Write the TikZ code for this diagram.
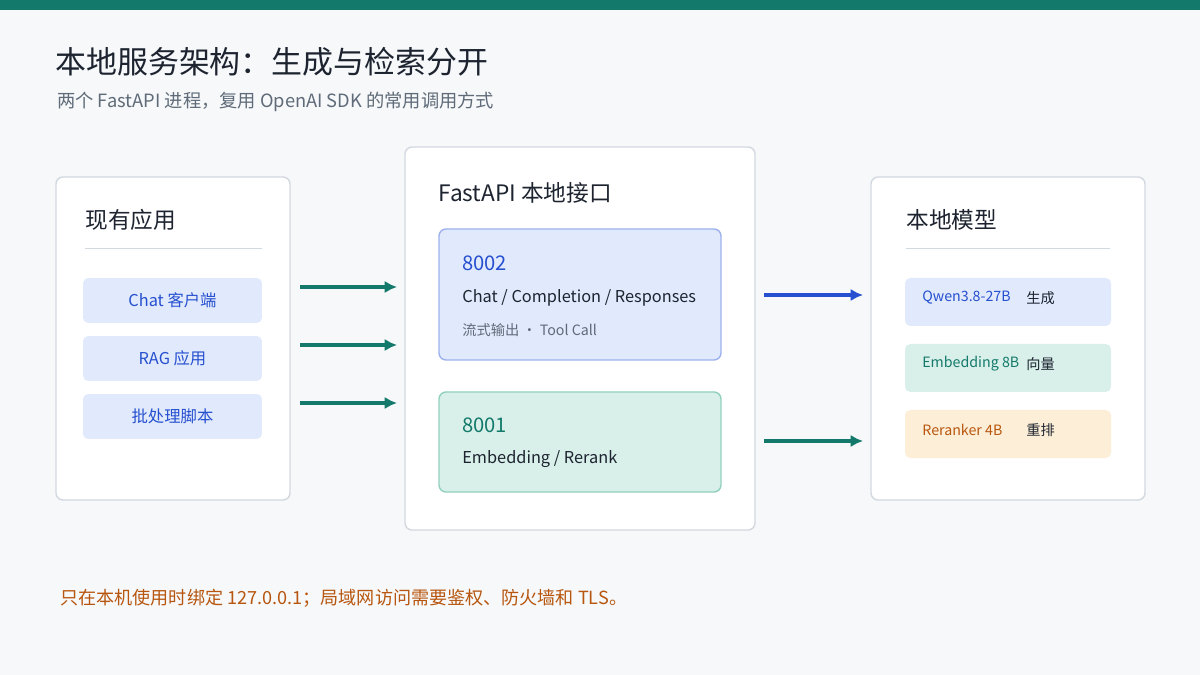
\documentclass[tikz,border=0pt]{standalone}
\usepackage{fontspec}
\setmainfont{Noto Sans CJK SC}
\usetikzlibrary{arrows.meta,positioning}
\definecolor{bg}{HTML}{F6F8FA}
\definecolor{teal}{HTML}{137A6B}
\definecolor{panelline}{HTML}{D3D9E0}
\definecolor{bluefill}{HTML}{E1E9FC}
\definecolor{blueline}{HTML}{9DB2EE}
\definecolor{bluetext}{HTML}{2650CF}
\definecolor{greenfill}{HTML}{D9F0EA}
\definecolor{greenline}{HTML}{92D0C0}
\definecolor{greentext}{HTML}{137A6B}
\definecolor{orangefill}{HTML}{FDEFD7}
\definecolor{orangetext}{HTML}{B8560F}
\definecolor{darktext}{HTML}{1D2430}
\definecolor{graytext}{HTML}{5F6B78}
\tikzset{
  panel/.style={draw=panelline, fill=white, rounded corners=4pt, line width=0.8pt},
  item/.style={fill=bluefill, rounded corners=3pt, text=bluetext, font=\fontsize{9.3}{11}\selectfont},
  head/.style={anchor=west, inner sep=0pt, text=darktext, font=\fontsize{12.9}{15}\selectfont},
  txt/.style={anchor=west, inner sep=0pt, font=\fontsize{9.3}{11}\selectfont},
  small/.style={anchor=west, inner sep=0pt, font=\fontsize{8.1}{10}\selectfont},
  link/.style={-{Latex[length=7pt,width=7pt]}, line width=2pt, draw=teal},
}
\begin{document}
\begin{tikzpicture}[x=0.02cm,y=-0.02cm]
  \useasboundingbox (0,0) rectangle (1200,675);
  \fill[bg] (0,0) rectangle (1200,675);
  \fill[teal] (0,0) rectangle (1200,10);
  % title
  \node[anchor=west, inner sep=0pt, text=darktext, font=\fontsize{17.6}{21}\selectfont] (title) at (55,62) {本地服务架构：生成与检索分开};
  \node[anchor=west, inner sep=0pt, text=graytext, font=\fontsize{10.4}{12}\selectfont] (subtitle) at (57,102) {两个 FastAPI 进程，复用 OpenAI SDK 的常用调用方式};
  % left panel
  \draw[panel] (56,177) rectangle (290,500);
  \node[head] (apps) at (85,220) {现有应用};
  \draw[panelline] (85,248) -- (262,248);
  \node[item, minimum width=3.58cm, minimum height=0.9cm] (chat) at (172.5,300.5) {Chat 客户端};
  \node[item, minimum width=3.58cm, minimum height=0.9cm] (rag) at (172.5,358.5) {RAG 应用};
  \node[item, minimum width=3.58cm, minimum height=0.9cm] (batch) at (172.5,416.5) {批处理脚本};
  % middle panel
  \draw[panel] (405,147) rectangle (755,530);
  \node[head] (api) at (438,193) {FastAPI 本地接口};
  \draw[fill=bluefill, draw=blueline, rounded corners=4pt, line width=0.8pt] (439,229) rectangle (721,360);
  \node[txt, text=bluetext, font=\fontsize{11.5}{13}\selectfont] (p8002) at (462,263) {8002};
  \node[txt, text=darktext] (gen) at (462,298) {Chat / Completion / Responses};
  \node[small, text=graytext] (stream) at (462,330) {流式输出 · Tool Call};
  \draw[fill=greenfill, draw=greenline, rounded corners=4pt, line width=0.8pt] (439,392) rectangle (721,492);
  \node[txt, text=greentext, font=\fontsize{11.5}{13}\selectfont] (p8001) at (462,425) {8001};
  \node[txt, text=darktext] (emb) at (462,459) {Embedding / Rerank};
  % right panel
  \draw[panel] (871,177) rectangle (1145,500);
  \node[head] (models) at (906,220) {本地模型};
  \draw[panelline] (906,248) -- (1110,248);
  \fill[bluefill, rounded corners=3pt] (905,278) rectangle (1111,326);
  \node[small, text=bluetext] (qwen) at (922,298) {Qwen3.8-27B};
  \node[small, text=darktext] (qwenrole) at (1026,298) {生成};
  \fill[greenfill, rounded corners=3pt] (905,344) rectangle (1111,392);
  \node[small, text=greentext] (embm) at (922,364) {Embedding 8B};
  \node[small, text=darktext] (embrole) at (1026,364) {向量};
  \fill[orangefill, rounded corners=3pt] (905,410) rectangle (1111,458);
  \node[small, text=orangetext] (rer) at (922,430) {Reranker 4B};
  \node[small, text=darktext] (rerrole) at (1026,430) {重排};
  % arrows
  \foreach \y [count=\i] in {287,345,403} {
    \coordinate (in\i s) at (300,\y);
    \coordinate (in\i e) at (397,\y);
    \draw[link] (in\i s) -- (in\i e);
  }
  \coordinate (outgs) at (764,295);
  \coordinate (outge) at (863,295);
  \draw[link, draw=bluetext] (outgs) -- (outge);
  \coordinate (outes) at (764,441);
  \coordinate (outee) at (863,441);
  \draw[link] (outes) -- (outee);
  % footer
  \node[anchor=west, inner sep=0pt, text=orangetext, font=\fontsize{10.3}{12}\selectfont] (note) at (60,598) {只在本机使用时绑定 127.0.0.1；局域网访问需要鉴权、防火墙和 TLS。};
\end{tikzpicture}
\end{document}
